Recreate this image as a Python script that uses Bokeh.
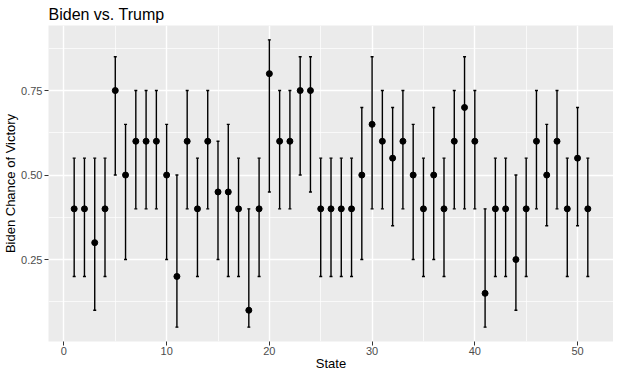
from bokeh.plotting import figure
from bokeh.models import Range1d, FixedTicker, Whisker, ColumnDataSource, TeeHead
from bokeh.embed import file_html
from bokeh.resources import INLINE

states = [1, 2, 3, 4, 5, 6, 7, 8, 9, 10, 11, 12, 13, 14, 15, 16, 17, 18, 19, 20,
          21, 22, 23, 24, 25, 26, 27, 28, 29, 30, 31, 32, 33, 34, 35, 36, 37, 38, 39, 40,
          41, 42, 43, 44, 45, 46, 47, 48, 49, 50, 51]
prob = [0.40, 0.40, 0.30, 0.40, 0.75, 0.50, 0.60, 0.60, 0.60, 0.50,
        0.20, 0.60, 0.40, 0.60, 0.45, 0.45, 0.40, 0.10, 0.40, 0.80,
        0.60, 0.60, 0.75, 0.75, 0.40, 0.40, 0.40, 0.40, 0.50, 0.65,
        0.60, 0.55, 0.60, 0.50, 0.40, 0.50, 0.40, 0.60, 0.70, 0.60,
        0.15, 0.40, 0.40, 0.25, 0.40, 0.60, 0.50, 0.60, 0.40, 0.55,
        0.40]
lower = [0.20, 0.20, 0.10, 0.20, 0.50, 0.25, 0.40, 0.40, 0.40, 0.25,
         0.05, 0.40, 0.20, 0.40, 0.25, 0.20, 0.20, 0.05, 0.20, 0.45,
         0.40, 0.40, 0.50, 0.45, 0.20, 0.20, 0.20, 0.20, 0.25, 0.40,
         0.40, 0.35, 0.40, 0.25, 0.20, 0.25, 0.20, 0.40, 0.40, 0.40,
         0.05, 0.20, 0.20, 0.10, 0.20, 0.40, 0.35, 0.40, 0.20, 0.35,
         0.20]
upper = [0.55, 0.55, 0.55, 0.55, 0.85, 0.65, 0.75, 0.75, 0.75, 0.65,
         0.50, 0.75, 0.55, 0.75, 0.60, 0.65, 0.55, 0.40, 0.55, 0.90,
         0.75, 0.75, 0.85, 0.85, 0.55, 0.55, 0.55, 0.55, 0.70, 0.85,
         0.75, 0.70, 0.75, 0.65, 0.55, 0.70, 0.55, 0.75, 0.85, 0.75,
         0.40, 0.55, 0.55, 0.50, 0.55, 0.75, 0.65, 0.75, 0.55, 0.70,
         0.55]

x_ticks = [0, 10, 20, 30, 40, 50]
x_minor = [5, 15, 25, 35, 45]
y_ticks = [0.25, 0.50, 0.75]
y_labels = ["0.25", "0.50", "0.75"]
y_minor = [0.125, 0.375, 0.625, 0.875]

FONT = "Liberation Sans"

src = ColumnDataSource(dict(state=states, prob=prob, lower=lower, upper=upper))

p = figure(width=613, height=373, output_backend="svg", toolbar_location=None,
           x_range=Range1d(-1.5, 53.5), y_range=Range1d(0.0075, 0.9425),
           title="Biden vs. Trump",
           min_border_left=0, min_border_right=0, min_border_top=0, min_border_bottom=0)

p.background_fill_color = "#EBEBEB"
p.border_fill_color = "white"
p.outline_line_color = None

p.title.text_font = FONT
p.title.text_font_size = "16px"
p.title.text_font_style = "normal"
p.title.text_color = "black"
p.title.align = "left"
p.title.standoff = 6
p.title.offset = 0

p.xaxis.ticker = FixedTicker(ticks=x_ticks, minor_ticks=x_minor)
p.yaxis.ticker = FixedTicker(ticks=y_ticks, minor_ticks=y_minor)
p.yaxis.major_label_overrides = {t: l for t, l in zip(y_ticks, y_labels)}

for ax in (p.xaxis, p.yaxis):
    ax.axis_line_color = None
    ax.major_tick_line_color = "#333333"
    ax.major_tick_line_width = 1
    ax.major_tick_in = 0
    ax.major_tick_out = 4
    ax.minor_tick_line_color = None
    ax.major_label_text_font = FONT
    ax.major_label_text_font_size = "11px"
    ax.major_label_text_color = "#4D4D4D"
    ax.axis_label_text_font = FONT
    ax.axis_label_text_font_size = "13px"
    ax.axis_label_text_font_style = "normal"
    ax.axis_label_text_color = "black"

p.xaxis.axis_label = "State"
p.xaxis.major_label_standoff = 1
p.xaxis.axis_label_standoff = -2
p.yaxis.axis_label = "Biden Chance of Victory"
p.yaxis.major_label_standoff = 2
p.yaxis.axis_label_standoff = 0

for g in (p.xgrid, p.ygrid):
    g.grid_line_color = "white"
    g.grid_line_width = 1.4
    g.minor_grid_line_color = "white"
    g.minor_grid_line_width = 0.7

w = Whisker(source=src, base="state", lower="lower", upper="upper",
            line_color="black", line_width=1.4,
            upper_head=TeeHead(size=3, line_color="black", line_width=1.4),
            lower_head=TeeHead(size=3, line_color="black", line_width=1.4))
p.add_layout(w)

p.scatter("state", "prob", source=src, size=6, color="black")

open("out.html", "w").write(file_html(p, INLINE))
